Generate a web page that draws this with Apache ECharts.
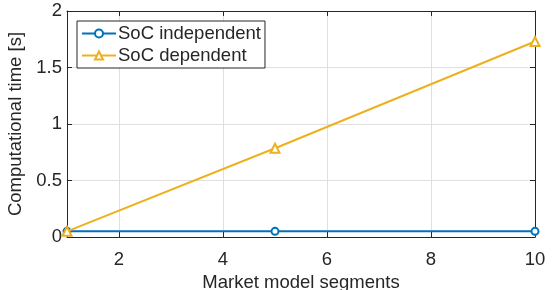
<!DOCTYPE html>
<html lang="en">
<head>
<meta charset="UTF-8">
<title>Computational time</title>
<style>
  html, body { margin: 0; padding: 0; background: #fff; }
  #chart { width: 557px; height: 290px; }
</style>
</head>
<body>
<div id="chart"></div>
<script src="https://cdn.jsdelivr.net/npm/echarts@6/dist/echarts.min.js"></script>
<script>
// data
var segments = [1, 5, 10];
var socIndependent = [0.05, 0.05, 0.05];
var socDependent = [0.05, 0.785, 1.73];
var xTicks = [2, 4, 6, 8, 10];
var seriesNames = ['SoC independent', 'SoC dependent'];

var ink = '#262626';
var font = 'Liberation Sans, Arial, Helvetica, sans-serif';
var fs = 18.5;

function pairs(xs, ys) {
    return xs.map(function (x, i) { return [x, ys[i]]; });
}

function xAxisCfg(pos, showLabel) {
    return {
        type: 'value', position: pos, min: 1, max: 10,
        axisLine: { show: true, onZero: false, lineStyle: { color: ink, width: 1 } },
        axisTick: { show: true, inside: true, length: 5, customValues: xTicks, lineStyle: { color: ink } },
        axisLabel: { show: showLabel, customValues: xTicks, color: ink, fontSize: fs, fontFamily: font, margin: 13 },
        splitLine: { show: showLabel, lineStyle: { color: '#dfdfdf', width: 1 } },
        name: showLabel ? 'Market model segments' : '',
        nameLocation: 'middle', nameGap: 33,
        nameTextStyle: { color: ink, fontSize: fs, fontFamily: font }
    };
}

function yAxisCfg(pos, showLabel) {
    return {
        type: 'value', position: pos, min: 0, max: 2, interval: 0.5,
        axisLine: { show: true, onZero: false, lineStyle: { color: ink, width: 1 } },
        axisTick: { show: true, inside: true, length: 5, lineStyle: { color: ink } },
        axisLabel: { show: showLabel, color: ink, fontSize: fs, fontFamily: font, margin: 5 },
        splitLine: { show: showLabel, lineStyle: { color: '#dfdfdf', width: 1 } },
        name: showLabel ? 'Computational time [s]' : '',
        nameLocation: 'middle', nameGap: 36,
        nameTextStyle: { color: ink, fontSize: fs, fontFamily: font }
    };
}

var chart = echarts.init(document.getElementById('chart'), null, { renderer: 'canvas' });
chart.setOption({
    animation: false,
    backgroundColor: '#fff',
    grid: { left: 67, right: 22, top: 11, bottom: 53, containLabel: false, outerBoundsMode: 'none' },
    legend: {
        orient: 'vertical', left: 77, top: 21,
        backgroundColor: '#fff', borderColor: ink, borderWidth: 1,
        padding: [3, 4, 3, 4], itemGap: 3, itemWidth: 34, itemHeight: 10,
        textStyle: { color: ink, fontSize: fs, fontFamily: font, padding: [0, 0, 0, -3] },
        data: seriesNames
    },
    xAxis: [xAxisCfg('bottom', true), xAxisCfg('top', false)],
    yAxis: [yAxisCfg('left', true), yAxisCfg('right', false)],
    series: [
        {
            name: seriesNames[0], type: 'line', xAxisIndex: 0, yAxisIndex: 0,
            data: pairs(segments, socIndependent),
            symbol: 'emptyCircle', symbolSize: 7,
            lineStyle: { color: '#0072BD', width: 2 },
            itemStyle: { color: '#0072BD', borderWidth: 2 },
            z: 3
        },
        {
            name: seriesNames[1], type: 'line', xAxisIndex: 0, yAxisIndex: 0,
            data: pairs(segments, socDependent),
            symbol: 'emptyTriangle', symbolSize: 9,
            lineStyle: { color: '#EDB120', width: 2 },
            itemStyle: { color: '#EDB120', borderWidth: 2 },
            z: 4
        }
    ]
});
</script>
</body>
</html>
